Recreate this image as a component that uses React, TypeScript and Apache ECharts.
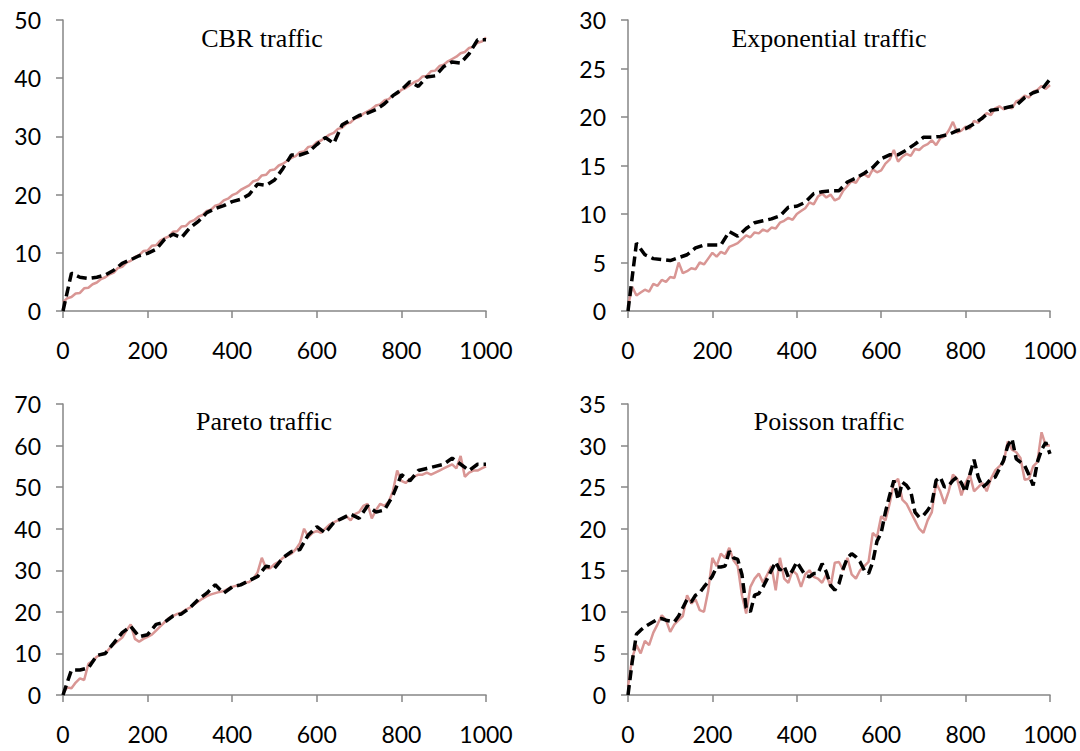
import React, { useEffect, useRef } from "react";
import * as echarts from "echarts";

const xFine = [0,10,20,30,40,50,60,70,80,90,100,110,120,130,140,150,160,170,180,190,200,210,220,230,240,250,260,270,280,290,300,310,320,330,340,350,360,370,380,390,400,410,420,430,440,450,460,470,480,490,500,510,520,530,540,550,560,570,580,590,600,610,620,630,640,650,660,670,680,690,700,710,720,730,740,750,760,770,780,790,800,810,820,830,840,850,860,870,880,890,900,910,920,930,940,950,960,970,980,990,1000];
const xCoarse = [0,20,40,60,80,100,120,140,160,180,200,220,240,260,280,300,320,340,360,380,400,420,440,460,480,500,520,540,560,580,600,620,640,660,680,700,720,740,760,780,800,820,840,860,880,900,920,940,960,980,1000];

const panelTitles = ["CBR traffic", "Exponential traffic", "Pareto traffic", "Poisson traffic"];
const yMax = [50, 30, 70, 35];
const yInterval = [10, 5, 10, 5];
const xTicks = [0, 200, 400, 600, 800, 1000];

// simulated (pink, noisy) series, step 10
const cbrSim = [1.5,2.2,2.4,3.0,3.1,3.9,4.0,4.6,4.9,5.5,
5.8,6.3,6.6,7.4,7.6,8.3,8.6,9.3,9.6,10.3,
10.4,11.2,11.3,12.1,12.5,12.8,13.6,13.7,14.5,14.6,
15.3,15.6,16.2,16.5,17.2,17.4,18.1,18.3,19.0,19.3,
19.9,20.2,20.8,21.2,21.6,22.3,22.5,23.3,23.4,24.2,
24.3,25.0,25.3,25.8,26.3,26.6,27.3,27.4,28.2,28.3,
29.0,29.3,29.8,30.3,30.6,31.3,31.5,32.2,32.4,33.1,
33.3,33.9,34.3,34.7,35.3,35.5,36.2,36.4,37.1,37.3,
38.0,38.3,38.8,39.3,39.6,40.3,40.4,41.2,41.3,42.1,
42.3,42.9,43.3,43.7,44.3,44.5,45.2,45.4,46.1,46.3,
47.0];
const expSim = [0.5,2.5,1.6,1.9,2.2,2.0,2.8,2.6,3.2,3.0,
3.5,3.4,5.0,3.9,4.1,4.4,4.3,5.0,4.8,5.4,
6.0,5.6,6.1,5.9,6.6,6.8,7.0,7.4,7.8,7.6,
8.1,8.0,8.4,8.2,8.6,8.5,9.1,9.3,9.6,9.4,
10.0,10.3,10.6,11.2,11.0,11.8,12.1,11.7,12.0,11.4,
11.6,12.4,12.9,13.4,13.2,13.9,14.1,13.8,14.6,14.3,
14.5,15.2,15.6,16.6,15.4,15.9,16.2,16.0,16.7,16.6,
17.0,17.2,17.6,17.1,17.8,18.0,18.6,19.5,18.4,18.6,
19.0,18.8,19.6,19.4,20.0,20.4,20.2,20.9,21.1,20.8,
21.0,20.9,21.6,21.8,22.2,22.0,22.6,22.8,23.2,22.9,
23.3];
const paretoSim = [0.5,1.8,1.6,3.0,4.0,3.6,7.5,8.2,9.2,9.8,
10.0,11.2,12.2,13.0,13.8,15.5,17.0,13.5,12.8,13.5,
14.0,14.5,15.5,16.5,17.5,18.5,19.0,19.5,19.8,20.5,
21.0,21.8,22.5,23.2,23.8,24.2,24.5,24.8,25.0,25.5,
26.0,26.3,26.5,27.0,27.2,28.0,29.5,33.0,30.5,30.5,
31.5,32.0,33.0,33.5,34.0,35.0,36.5,40.0,38.0,39.0,
39.5,39.0,40.0,41.0,41.5,42.0,42.5,43.0,42.0,43.5,
44.0,45.5,46.0,42.5,44.5,46.0,45.5,46.5,49.0,54.0,
51.5,51.0,52.0,52.5,53.0,53.0,53.5,53.0,53.5,54.0,
54.5,55.0,55.5,54.5,57.5,52.5,53.5,54.0,54.0,54.5,
55.0];
const poissonSim = [1.0,4.5,6.0,5.0,6.5,6.0,7.5,8.5,9.6,9.0,
7.6,8.5,9.0,9.5,12.0,11.0,11.5,10.2,10.0,12.5,
16.5,15.5,17.0,16.5,17.7,16.2,15.5,12.0,9.8,13.0,
14.0,14.6,13.5,14.5,15.5,12.6,16.5,14.0,13.5,15.0,
14.5,13.0,14.5,15.0,14.2,14.0,13.5,14.5,13.0,15.9,
16.0,15.0,16.5,14.5,14.0,15.0,15.5,16.0,19.5,19.0,
21.5,21.0,23.0,25.5,26.0,23.5,23.0,22.0,21.0,20.0,
19.5,21.0,22.0,25.5,24.5,23.0,24.5,26.5,26.0,24.0,
25.5,26.5,24.5,25.0,25.5,24.5,26.0,27.0,27.5,28.0,
30.5,29.5,29.2,28.5,25.9,26.0,27.5,28.0,31.6,30.0,
30.0];

// analytical (black dashed) series
const cbrModel = [0,6.5,5.8,5.6,5.8,6.2,7.0,8.2,8.8,9.5,
9.9,10.6,12.3,13.2,12.6,14.3,15.4,16.9,17.6,18.1,
18.8,19.2,20.0,21.8,21.6,22.5,24.5,26.8,26.8,27.3,
28.6,29.8,28.8,32.0,32.8,33.6,34.0,34.6,35.6,37.0,
38.0,39.4,38.6,40.2,40.4,42.0,42.8,42.6,44.2,46.6,
46.6];
const expModel = [0,7.0,5.8,5.4,5.3,5.2,5.5,5.8,6.5,6.8,
6.8,6.8,8.2,7.7,8.5,9.1,9.3,9.5,9.8,10.7,
10.8,11.2,12.1,12.3,12.4,12.4,13.3,13.7,14.2,14.8,
15.7,16.1,16.1,16.6,17.2,17.9,17.9,18.0,18.2,18.6,
18.8,19.3,19.9,20.7,20.8,21.0,21.2,22.0,22.5,22.8,
23.9];
const paretoModel = [0,6.0,6.0,6.5,9.5,10.0,12.5,15.0,16.5,14.0,
14.5,17.0,17.5,19.0,19.5,21.0,23.0,24.5,26.5,24.5,
26.0,26.5,27.5,28.5,31.0,30.5,33.0,34.5,35.0,38.5,
40.5,39.0,41.5,42.5,43.5,42.5,45.5,44.0,44.5,48.0,
53.0,51.5,54.0,54.5,55.0,55.5,57.0,55.5,54.0,55.5,
55.5];
const poissonModel = [0,4.0,7.3,7.8,8.2,8.5,8.8,9.1,9.2,9.0,
8.9,8.8,9.5,10.5,11.5,11.2,12.0,12.3,13.0,13.6,
14.3,15.4,15.4,15.5,17.3,16.5,16.3,14.5,10.5,10.0,
12.0,12.2,13.0,14.0,15.0,16.0,15.0,15.5,14.2,15.0,
16.0,15.2,14.4,14.2,14.6,14.6,15.8,14.8,13.2,12.6,
13.4,15.2,16.5,17.0,16.6,16.0,15.0,14.6,16.0,18.5,
19.5,22.0,24.0,25.8,23.5,25.6,25.2,24.5,22.0,21.4,
21.6,22.2,23.0,25.8,26.2,25.0,25.2,25.8,26.2,25.5,
24.4,26.5,28.3,26.2,25.0,25.4,26.0,26.2,27.2,28.2,
30.0,30.8,28.4,28.0,27.6,26.5,25.2,28.0,29.5,30.4,
29.0];

const simSeries = [cbrSim, expSim, paretoSim, poissonSim];
const modelSeries = [cbrModel, expModel, paretoModel, poissonModel];
const modelX = [xCoarse, xCoarse, xCoarse, xFine];

const zip = (xs: number[], ys: number[]) => ys.map((y, i) => [xs[i], y]);

export default function App() {
  const ref = useRef<HTMLDivElement>(null);
  useEffect(() => {
    if (!ref.current) return;
    const chart = echarts.init(ref.current, undefined, { renderer: "svg" });
    const grids = [
      { left: 63, top: 20, width: 423, height: 291 },
      { left: 628, top: 20, width: 422, height: 291 },
      { left: 63, top: 404, width: 423, height: 291 },
      { left: 628, top: 404, width: 422, height: 291 },
    ];
    const axisColor = "#868686";
    const labelFont = { fontFamily: "Lato", fontSize: 23, color: "#000" };
    const titlePos = [
      [262, 38],
      [829, 38],
      [264, 421],
      [829, 421],
    ];
    const option: any = {
      animation: false,
      backgroundColor: "#fff",
      grid: grids.map((g) => ({ ...g, containLabel: false })),
      xAxis: grids.map((_, i) => ({
        type: "value",
        gridIndex: i,
        min: xTicks[0],
        max: xTicks[xTicks.length - 1],
        interval: 200,
        axisLine: { show: true, onZero: false, lineStyle: { color: axisColor, width: 1.5 } },
        axisTick: { show: true, inside: false, length: 7, lineStyle: { color: axisColor, width: 1.5 } },
        axisLabel: { ...labelFont, margin: 27, formatter: (v: number) => String(v) },
        splitLine: { show: false },
      })),
      yAxis: grids.map((_, i) => ({
        type: "value",
        gridIndex: i,
        min: 0,
        max: yMax[i],
        interval: yInterval[i],
        axisLine: { show: true, lineStyle: { color: axisColor, width: 1.5 } },
        axisTick: { show: true, inside: false, length: 7, lineStyle: { color: axisColor, width: 1.5 } },
        axisLabel: { ...labelFont, margin: 22, formatter: (v: number) => String(v) },
        splitLine: { show: false },
      })),
      series: [
        ...simSeries.map((ys, i) => ({
          type: "line",
          xAxisIndex: i,
          yAxisIndex: i,
          data: zip(xFine, ys),
          showSymbol: false,
          symbol: "none",
          lineStyle: { color: "#D99694", width: 2.5 },
          z: 2,
        })),
        ...modelSeries.map((ys, i) => ({
          type: "line",
          xAxisIndex: i,
          yAxisIndex: i,
          data: zip(modelX[i], ys),
          showSymbol: false,
          symbol: "none",
          lineStyle: { color: "#000", width: 3.5, type: [10, 5] },
          z: 3,
        })),
      ],
      graphic: panelTitles.map((t, i) => ({
        type: "text",
        x: titlePos[i][0],
        y: titlePos[i][1],
        style: {
          text: t,
          fontFamily: "Liberation Serif",
          fontSize: 26,
          fill: "#000",
          textAlign: "center",
          textVerticalAlign: "middle",
        },
      })),
    };
    chart.setOption(option);
    return () => chart.dispose();
  }, []);
  return (
    <div
      ref={ref}
      style={{ position: "absolute", left: 0, top: 0, width: 1080, height: 751 }}
    />
  );
}
